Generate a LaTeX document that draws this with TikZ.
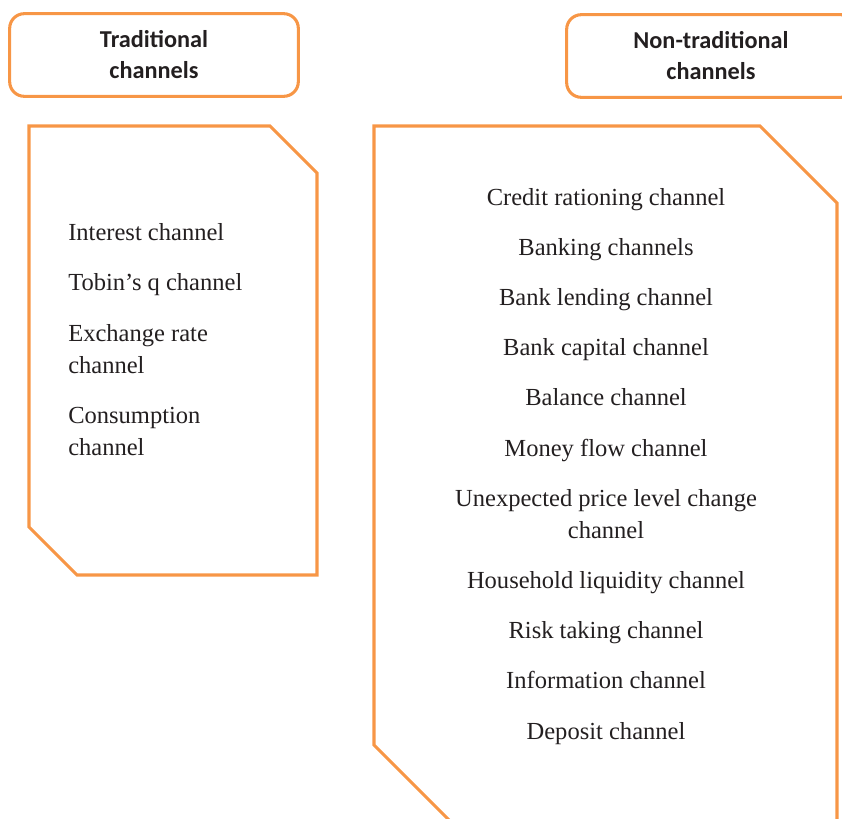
\documentclass[tikz,border=0pt]{standalone}
\usepackage{fontspec}
\setmainfont{Liberation Serif}
\newfontfamily\headfont{Carlito}
\usepackage{xcolor}
\usetikzlibrary{positioning,calc}
\definecolor{chorange}{HTML}{F79646}
\definecolor{chtext}{HTML}{231F20}

\tikzset{
    headbox/.style={draw=chorange, line width=2.3pt, rounded corners=11pt, minimum width=216.5pt, minimum height=62pt, align=center, text=chtext, font=\headfont\bfseries\fontsize{18.2}{23.3}\selectfont},
    chanbox/.style={draw=chorange, line width=2.3pt},
    item/.style={text=chtext, inner sep=0pt, font=\fontsize{18.4}{24}\selectfont}
}

\begin{document}
\begin{tikzpicture}[x=0.75pt,y=-0.75pt]
    \useasboundingbox (0,0) rectangle (842,818);
    \clip (0,0) rectangle (842,818);

    % Headers
    \node[headbox] (tradhead) at (154,55) {Traditional\\channels};
    \node[headbox] (nontradhead) at (711,56) {Non-traditional\\channels};

    % Boxes with cut corners
    \draw[chanbox] (29,126) -- (270,126) -- (317,173) -- (317,575) -- (77,575) -- (29,527) -- cycle;
    \draw[chanbox] (374,126) -- (760,126) -- (837,203) -- (837,900) -- (529,900) -- (374,745) -- cycle;

    % Traditional channels (base = last line)
    \foreach \y/\t [count=\i] in {240/Interest channel, 290/Tobin’s q channel, 373/Exchange rate\\channel, 455/Consumption\\channel} {
        \node[item, anchor=base west, align=left] (trad\i) at (68,\y) {\t};
    }

    % Non-traditional channels
    \foreach \y/\t [count=\i] in {205/Credit rationing channel, 255/Banking channels, 305/Bank lending channel, 355/Bank capital channel, 405/Balance channel, 456/Money flow channel, 538/Unexpected price level change\\channel, 588/Household liquidity channel, 638/Risk taking channel, 688/Information channel, 739/Deposit channel} {
        \node[item, anchor=base, align=center] (nontrad\i) at (606,\y) {\t};
    }
\end{tikzpicture}
\end{document}
